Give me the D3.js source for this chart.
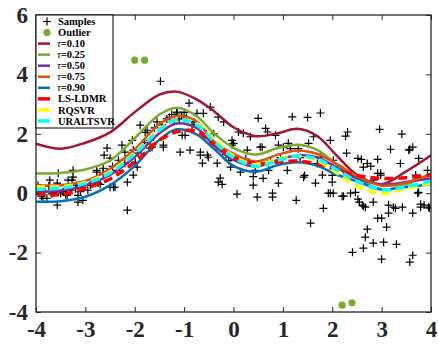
<!DOCTYPE html>
<html>
<head>
<meta charset="utf-8">
<script src="https://cdn.jsdelivr.net/npm/d3@7"></script>
<style>
  body { margin: 0; background: #fff; }
  svg { display: block; }
</style>
</head>
<body>
<div id="chart"></div>
<script>
// x grid shared by all fitted curves
const gridX = [-4, -3.5, -3, -2.5, -2, -1.5, -1.15, -0.75, -0.4, 0, 0.45, 0.9, 1.3, 1.7, 2.1, 2.5, 3, 3.5, 4];

const tau10 = [1.67, 1.50, 1.70, 2.05, 2.73, 3.32, 3.42, 3.16, 2.77, 2.22, 1.92, 2.02, 2.17, 1.92, 1.25, 0.62, 0.30, 0.74, 1.28];
const tau25 = [0.66, 0.68, 0.80, 1.10, 1.85, 2.65, 2.88, 2.60, 2.02, 1.53, 1.30, 1.52, 1.63, 1.45, 0.95, 0.52, 0.12, 0.30, 0.66];
const tau50 = [0.05, 0.08, 0.27, 0.62, 1.22, 2.02, 2.35, 2.20, 1.62, 1.12, 0.90, 1.12, 1.28, 1.20, 0.85, 0.50, 0.30, 0.38, 0.50];
const tau75 = [0.27, 0.27, 0.41, 0.82, 1.48, 2.33, 2.60, 2.42, 1.75, 1.33, 1.07, 1.30, 1.44, 1.32, 0.98, 0.58, 0.25, 0.36, 0.63];
const tau90 = [-0.29, -0.27, -0.12, 0.27, 0.92, 1.80, 2.15, 1.98, 1.50, 0.92, 0.72, 0.95, 1.04, 0.92, 0.62, 0.40, 0.13, 0.21, 0.30];
const lsldmr = [-0.02, -0.05, 0.16, 0.48, 1.05, 1.78, 2.07, 2.08, 1.65, 1.22, 1.00, 1.05, 1.08, 0.98, 0.78, 0.60, 0.50, 0.52, 0.62];
const rqsvr = [0.22, 0.22, 0.36, 0.72, 1.36, 2.15, 2.48, 2.35, 1.82, 1.25, 0.95, 1.15, 1.25, 1.10, 0.68, 0.24, -0.01, 0.16, 0.34];
const uraltsvr = [0.13, 0.17, 0.33, 0.68, 1.32, 2.12, 2.47, 2.30, 1.75, 1.20, 0.90, 1.10, 1.25, 1.15, 0.78, 0.40, 0.12, 0.22, 0.40];

const outliers = [[-2.0, 4.48], [-1.8, 4.48], [2.2, -3.77], [2.4, -3.69]];

const samples = [
  [-3.97,0.10],[-3.96,0.27],[-3.92,0.03],[-3.89,-0.10],[-3.86,-0.17],[-3.82,0.05],[-3.78,-0.17],[-3.74,0.24],
  [-3.72,0.44],[-3.68,-0.02],[-3.65,0.03],[-3.60,0.08],[-3.57,-0.40],[-3.57,0.34],[-3.55,0.67],[-3.50,0.00],
  [-3.45,0.05],[-3.40,-0.05],[-3.37,-0.07],[-3.35,0.44],[-3.30,0.10],[-3.27,0.44],[-3.25,0.54],[-3.25,0.77],
  [-3.20,0.15],[-3.17,0.27],[-3.15,-0.07],[-3.15,-0.30],[-3.10,0.05],[-3.05,-0.24],[-3.03,0.20],
  [-2.95,0.10],[-2.90,0.27],[-2.85,0.35],[-2.77,0.77],[-2.77,0.71],[-2.74,0.34],[-2.70,0.30],[-2.64,0.67],
  [-2.64,0.84],[-2.62,1.28],[-2.56,1.52],[-2.56,0.71],[-2.50,1.18],[-2.50,0.20],[-2.45,0.90],[-2.43,0.20],
  [-2.40,0.20],[-2.36,0.77],[-2.33,1.11],[-2.30,0.95],[-2.26,1.62],[-2.20,1.38],[-2.20,1.01],[-2.15,0.37],
  [-2.15,-0.57],[-2.10,1.20],[-2.05,1.78],[-2.03,1.45],[-2.03,0.61],[-1.99,1.04],
  [-1.95,0.88],[-1.93,1.35],[-1.89,2.29],[-1.80,1.70],[-1.79,2.05],[-1.75,2.12],[-1.69,1.52],[-1.69,1.78],
  [-1.65,1.55],[-1.60,2.20],[-1.55,2.40],[-1.48,3.77],[-1.45,2.30],[-1.42,1.55],[-1.42,1.62],[-1.35,2.50],
  [-1.30,2.55],[-1.25,2.65],[-1.20,2.45],[-1.15,2.70],[-1.14,2.73],[-1.10,2.50],[-1.08,1.38],[-1.05,2.62],
  [-1.04,1.95],[-1.00,2.72],[-0.98,1.95],
  [-0.95,2.55],[-0.90,3.03],[-0.88,1.45],[-0.84,2.30],[-0.80,2.40],[-0.74,2.69],[-0.67,1.28],[-0.67,1.38],
  [-0.63,1.01],[-0.61,2.69],[-0.55,2.00],[-0.53,1.28],[-0.51,1.21],[-0.47,2.90],[-0.40,2.00],[-0.35,1.60],
  [-0.33,1.01],[-0.31,2.56],[-0.31,0.37],[-0.27,0.51],[-0.23,0.30],[-0.20,2.40],[-0.15,1.30],[-0.10,1.10],
  [-0.06,0.88],[-0.06,1.21],[-0.03,1.62],[-0.03,1.78],
  [0.00,1.68],[0.07,-0.03],[0.10,2.06],[0.14,0.71],[0.20,2.02],[0.25,1.15],[0.28,1.45],[0.34,1.90],
  [0.40,0.27],[0.40,0.56],[0.44,0.77],[0.48,-0.13],[0.50,2.52],[0.54,1.55],[0.58,1.55],[0.60,0.50],
  [0.65,2.18],[0.69,2.06],[0.71,0.77],[0.75,1.10],[0.79,0.00],[0.79,-0.13],[0.85,1.95],[0.91,1.62],
  [0.91,0.34],[0.95,1.20],
  [1.01,1.55],[1.09,0.77],[1.11,1.68],[1.15,1.50],[1.19,2.57],[1.27,-0.24],[1.31,1.50],[1.35,1.20],
  [1.42,0.54],[1.44,0.60],[1.50,2.55],[1.52,1.68],[1.56,-1.01],[1.62,1.90],[1.66,0.34],[1.70,1.00],
  [1.76,2.70],[1.76,1.21],[1.80,0.61],[1.82,-0.51],[1.92,0.00],[1.96,1.78],[1.96,0.00],
  [2.00,0.60],[2.00,0.37],[2.02,1.11],[2.02,0.00],[2.10,0.80],[2.20,-0.10],[2.23,-0.10],[2.27,1.92],
  [2.29,1.35],[2.31,2.06],[2.37,0.00],[2.41,-1.99],[2.47,0.03],[2.52,1.17],[2.52,-0.20],[2.55,-0.30],
  [2.59,1.14],[2.61,-0.40],[2.63,0.88],[2.63,-0.44],[2.63,-1.85],[2.67,-0.47],[2.67,-1.48],[2.71,1.00],
  [2.71,-1.21],[2.78,0.91],[2.83,-0.30],[2.83,-1.68],[2.84,0.44],[2.92,1.14],[2.92,0.67],[2.92,-0.84],
  [2.96,2.15],[2.98,0.61],[2.98,0.67],
  [3.00,-0.84],[3.00,-2.22],[3.04,-1.65],[3.10,-1.14],[3.14,-0.40],[3.14,-0.67],[3.18,1.48],[3.24,-0.47],
  [3.28,-0.51],[3.30,-1.72],[3.38,1.00],[3.41,1.99],[3.42,-0.47],[3.55,1.45],[3.57,1.48],[3.57,-2.32],
  [3.63,1.55],[3.63,-0.67],[3.63,-2.09],[3.69,0.61],[3.73,0.00],[3.75,1.17],[3.75,0.03],[3.79,-0.37],
  [3.79,-0.47],[3.86,-0.40],[3.93,0.77],[3.95,-0.47],[3.97,-0.50]
];

const xTicks = [-4, -3, -2, -1, 0, 1, 2, 3, 4];
const yTicks = [-4, -2, 0, 2, 4, 6];

const series = [
  { name: "0.10", tau: true, values: tau10, color: "#A2142F", dash: null, width: 2.5 },
  { name: "0.25", tau: true, values: tau25, color: "#77AC30", dash: null, width: 2.5 },
  { name: "0.50", tau: true, values: tau50, color: "#7E2F8E", dash: null, width: 2.5 },
  { name: "0.75", tau: true, values: tau75, color: "#D95319", dash: null, width: 2.5 },
  { name: "0.90", tau: true, values: tau90, color: "#0072BD", dash: null, width: 2.5 },
  { name: "LS-LDMR", tau: false, values: lsldmr, color: "#FF0000", dash: "9,5", width: 3.5 },
  { name: "RQSVR", tau: false, values: rqsvr, color: "#FFFF00", dash: "9,5", width: 3.5 },
  { name: "URALTSVR", tau: false, values: uraltsvr, color: "#00FFFF", dash: "9,5", width: 3.5 }
];

const width = 438, height = 346;
const margin = { top: 15, right: 7, bottom: 34, left: 36 };
const font = "'Liberation Serif', 'Times New Roman', serif";

const svg = d3.select("#chart").append("svg")
  .attr("width", width)
  .attr("height", height);

const x = d3.scaleLinear().domain([-4, 4]).range([margin.left, width - margin.right]);
const y = d3.scaleLinear().domain([-4, 6]).range([height - margin.bottom, margin.top]);

svg.append("clipPath").attr("id", "plot-clip")
  .append("rect")
  .attr("x", margin.left).attr("y", margin.top)
  .attr("width", x(4) - x(-4)).attr("height", y(-4) - y(6));

const plot = svg.append("g").attr("clip-path", "url(#plot-clip)");

// samples as plus markers
const plusSize = 4;
plot.append("g").selectAll("path")
  .data(samples)
  .join("path")
  .attr("d", d => {
    const px = x(d[0]), py = y(d[1]);
    return `M${px - plusSize},${py}H${px + plusSize}M${px},${py - plusSize}V${py + plusSize}`;
  })
  .attr("stroke", "#000")
  .attr("stroke-width", 1.2)
  .attr("fill", "none");

plot.append("g").selectAll("circle")
  .data(outliers)
  .join("circle")
  .attr("cx", d => x(d[0]))
  .attr("cy", d => y(d[1]))
  .attr("r", 3.6)
  .attr("fill", "#77AC30");

const line = d3.line()
  .x((d, i) => x(gridX[i]))
  .y(d => y(d))
  .curve(d3.curveCatmullRom.alpha(0.5));

series.forEach(s => {
  plot.append("path")
    .attr("d", line(s.values))
    .attr("fill", "none")
    .attr("stroke", s.color)
    .attr("stroke-width", s.width)
    .attr("stroke-dasharray", s.dash);
});

// axes: box with inward ticks on all sides
const axisColor = "#262626";
const tickLen = 5;
const fmt = d => String(d);

svg.append("g")
  .attr("transform", `translate(0,${y(-4)})`)
  .call(d3.axisBottom(x).tickValues(xTicks).tickFormat(fmt).tickSizeInner(-tickLen).tickSizeOuter(0).tickPadding(9))
  .call(g => g.select(".domain").remove());

svg.append("g")
  .attr("transform", `translate(0,${y(6)})`)
  .call(d3.axisTop(x).tickValues(xTicks).tickSizeInner(-tickLen).tickSizeOuter(0).tickFormat(""))
  .call(g => g.select(".domain").remove());

svg.append("g")
  .attr("transform", `translate(${x(-4)},0)`)
  .call(d3.axisLeft(y).tickValues(yTicks).tickFormat(fmt).tickSizeInner(-tickLen).tickSizeOuter(0).tickPadding(8))
  .call(g => g.select(".domain").remove());

svg.append("g")
  .attr("transform", `translate(${x(4)},0)`)
  .call(d3.axisRight(y).tickValues(yTicks).tickSizeInner(-tickLen).tickSizeOuter(0).tickFormat(""))
  .call(g => g.select(".domain").remove());

svg.selectAll(".tick line").attr("stroke", axisColor).attr("stroke-width", 1);
svg.selectAll(".tick text")
  .attr("fill", axisColor)
  .style("font-family", font)
  .style("font-weight", "bold")
  .style("font-size", "23px");

svg.append("rect")
  .attr("x", x(-4)).attr("y", y(6))
  .attr("width", x(4) - x(-4)).attr("height", y(-4) - y(6))
  .attr("fill", "none")
  .attr("stroke", axisColor)
  .attr("stroke-width", 1.3);

// legend
const legend = svg.append("g").attr("transform", `translate(${x(-4)},${y(6)})`);
legend.append("rect")
  .attr("x", 0).attr("y", 0)
  .attr("width", 77).attr("height", 113)
  .attr("fill", "#fff")
  .attr("stroke", "#000")
  .attr("stroke-width", 1);

const rowY = i => 6.5 + i * 11.05;
const items = [{ kind: "plus", label: "Samples" }, { kind: "dot", label: "Outlier" }]
  .concat(series.map(s => ({ kind: "line", s })));

items.forEach((it, i) => {
  const ry = rowY(i);
  const row = legend.append("g");
  if (it.kind === "plus") {
    row.append("path")
      .attr("d", `M${11 - plusSize},${ry}H${11 + plusSize}M11,${ry - plusSize}V${ry + plusSize}`)
      .attr("stroke", "#000").attr("stroke-width", 1.2);
  } else if (it.kind === "dot") {
    row.append("circle").attr("cx", 11).attr("cy", ry).attr("r", 3.6).attr("fill", "#77AC30");
  } else {
    row.append("line")
      .attr("x1", 2).attr("x2", 14)
      .attr("y1", ry).attr("y2", ry)
      .attr("stroke", it.s.color)
      .attr("stroke-width", it.s.dash ? 3.5 : 2.5);
  }
  const t = row.append("text")
    .attr("x", it.kind === "line" && it.s.tau ? 21 : 22)
    .attr("y", ry + 3.6)
    .style("font-family", font)
    .style("font-size", "10.5px")
    .attr("fill", "#000");
  if (it.kind === "line" && it.s.tau) {
    t.append("tspan").style("font-style", "italic").text("τ");
    t.append("tspan").style("font-weight", "bold").text("=" + it.s.name);
  } else {
    t.style("font-weight", "bold").text(it.kind === "line" ? it.s.name : it.label);
  }
});
</script>
</body>
</html>
